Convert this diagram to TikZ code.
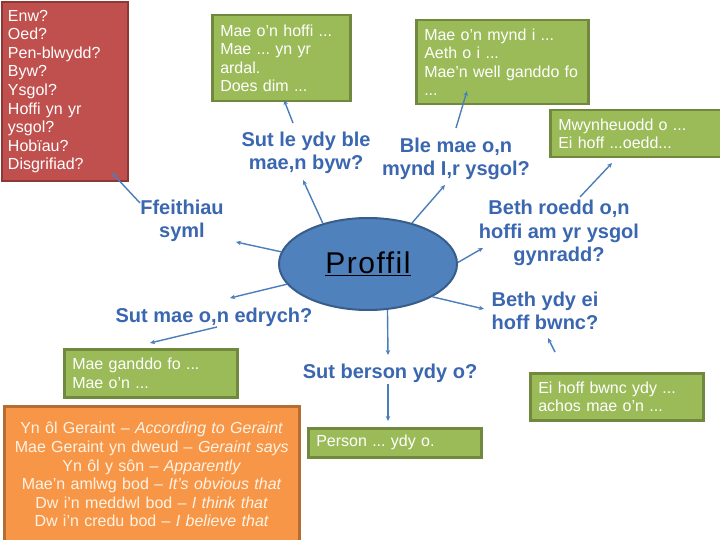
\documentclass[tikz,border=0pt]{standalone}
\usepackage{fontspec}
\setmainfont{Liberation Sans}
\usetikzlibrary{arrows.meta,shapes.geometric}
\definecolor{grn}{HTML}{9BBB59}
\definecolor{grnb}{HTML}{71893F}
\definecolor{redf}{HTML}{C0504D}
\definecolor{redb}{HTML}{8C3836}
\definecolor{orf}{HTML}{F79646}
\definecolor{orb}{HTML}{B66D31}
\definecolor{elf}{HTML}{4F81BD}
\definecolor{elb}{HTML}{385D8A}
\definecolor{hd}{HTML}{3A67B0}
\definecolor{arc}{HTML}{4A7EBB}
\definecolor{cream}{HTML}{FFF3E6}
\frenchspacing
\begin{document}
\begin{tikzpicture}[x=1pt,y=-1pt,
  box/.style={draw=grnb, fill=grn, line width=2.5pt, anchor=north west, inner xsep=8pt, inner ysep=0pt,
    text=white, align=left, font=\fontsize{16}{18.6}\selectfont},
  head/.style={text=hd, align=center, inner sep=0pt, font=\fontsize{20}{23.5}\selectfont\bfseries},
  arr/.style={draw=arc, line width=1.4pt, -{Stealth[length=5pt,width=4.5pt]}}
]
\useasboundingbox (0,0) rectangle (720,540);
\fill[white] (0,0) rectangle (720,540);

% boxes
\node[box, fill=redf, draw=redb, line width=2pt, inner xsep=6pt, text width=114pt, minimum height=179pt] (rb) at (1,1)
  {Enw?\\Oed?\\Pen-blwydd?\\Byw?\\Ysgol?\\Hoffi yn yr\\ysgol?\\Hobïau?\\Disgrifiad?};
\node[box, text width=122pt, minimum height=86pt] (b1) at (211,14)
  {Mae o'n hoffi ...\\Mae ... yn yr\\ardal.\\Does dim ...};
\node[box, text width=156pt, minimum height=84pt] (b2) at (415,19)
  {Mae o'n mynd i ...\\Aeth o i ...\\Mae'n well ganddo fo\\...};
\node[box, text width=155pt, minimum height=47pt] (b3) at (549,109)
  {Mwynheuodd o ...\\Ei hoff ...oedd...};
\node[box, text width=157pt, minimum height=48pt] (b4) at (63,348)
  {Mae ganddo fo ...\\Mae o'n ...};
\node[box, fill=orf, draw=orb, text=cream, align=center, text width=279pt, minimum height=137pt] (ob) at (3,405)
  {Yn ôl Geraint – \textit{According to Geraint}\\
   Mae Geraint yn dweud – \textit{Geraint says}\\
   Yn ôl y sôn – \textit{Apparently}\\
   Mae'n amlwg bod – \textit{It's obvious that}\\
   Dw i'n meddwl bod – \textit{I think that}\\
   Dw i'n credu bod – \textit{I believe that}};
\node[box, text width=157pt, minimum height=29pt] (b5) at (307,427) {Person ... ydy o.};
\node[box, text width=157pt, minimum height=47pt] (b6) at (529,372) {Ei hoff bwnc ydy ...\\achos mae o'n ...};

% central ellipse
\node[ellipse, draw=elb, fill=elf, line width=2pt, minimum width=178pt, minimum height=92pt, inner sep=0pt,
  font=\fontsize{30}{36}\selectfont\addfontfeature{LetterSpace=5}] (ell) at (368,264) {\underline{Proffil}};

% headings
\node[head] (h1) at (306,153) {Sut le ydy ble\\mae,n byw?};
\node[head] (h2) at (456,159) {Ble mae o,n\\mynd I,r ysgol?};
\node[head] (h3) at (182,221) {Ffeithiau\\syml};
\node[head] (h4) at (559,233) {Beth roedd o,n\\hoffi am yr ysgol\\gynradd?};
\node[head] (h5) at (545,311) {Beth ydy ei\\hoff bwnc?};
\node[head] (h6) at (214,317) {Sut mae o,n edrych?};
\node[head] (h7) at (390,373) {Sut berson ydy o?};

% connector ends
\coordinate (t1) at (303,180);
\coordinate (t2) at (445,185);
\coordinate (t3) at (236,242);
\coordinate (t4) at (483,248);
\coordinate (t5) at (484,309);
\coordinate (t6) at (230,298);
\coordinate (t7) at (388,355);
\coordinate (s1) at (293,123);
\coordinate (e1) at (284,100);
\coordinate (s2) at (456,128);
\coordinate (e2) at (467,91);
\coordinate (s3) at (140,203);
\coordinate (e3) at (112,173);
\coordinate (s4) at (580,197);
\coordinate (e4) at (612,163);
\coordinate (s5) at (555,352);
\coordinate (e5) at (548,338);
\coordinate (s6) at (217,327);
\coordinate (e6) at (150,343);
\coordinate (s7) at (388,384);
\coordinate (e7) at (388,421);

% connectors from ellipse
\draw[arr] (ell.138) -- (t1);
\draw[arr] (ell.43) -- (t2);
\draw[arr] (ell.172) -- (t3);
\draw[arr] (ell.1) -- (t4);
\draw[arr] (ell.-27) -- (t5);
\draw[arr] (ell.194) -- (t6);
\draw[arr] (ell.-67) -- (t7);
% connectors from headings to boxes
\draw[arr] (s1) -- (e1);
\draw[arr] (s2) -- (e2);
\draw[arr] (s3) -- (e3);
\draw[arr] (s4) -- (e4);
\draw[arr] (s5) -- (e5);
\draw[arr] (s6) -- (e6);
\draw[arr] (s7) -- (e7);
\end{tikzpicture}
\end{document}
